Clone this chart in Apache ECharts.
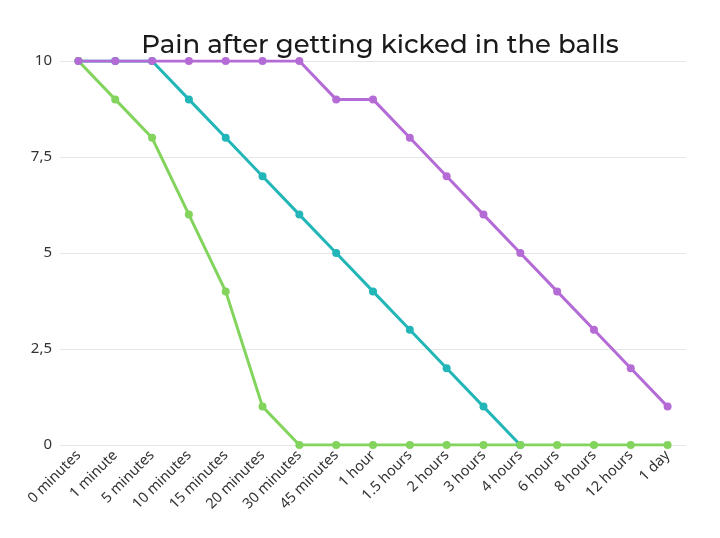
<!DOCTYPE html>
<html>
<head>
<meta charset="utf-8">
<script src="https://cdn.jsdelivr.net/npm/echarts@6/dist/echarts.min.js"></script>
<style>html,body{margin:0;padding:0;background:#fff}#c{width:720px;height:538px}</style>
</head>
<body>
<div id="c"></div>
<script>
const titleText = 'Pain after getting kicked in the balls';
const categories = ['0 minutes','1 minute','5 minutes','10 minutes','15 minutes','20 minutes','30 minutes','45 minutes','1 hour','1.5 hours','2 hours','3 hours','4 hours','6 hours','8 hours','12 hours','1 day'];
const tealValues = [10,10,10,9,8,7,6,5,4,3,2,1,0,null,null,null,null];
const greenValues = [10,9,8,6,4,1,0,0,0,0,0,0,0,0,0,0,0];
const purpleValues = [10,10,10,10,10,10,10,9,9,8,7,6,5,4,3,2,1];
const yTicks = [0,2.5,5,7.5,10];

const chart = echarts.init(document.getElementById('c'));
function mk(name, data, color){
  return {name, type:'line', data, symbol:'circle', symbolSize:8, connectNulls:false,
    lineStyle:{color, width:3}, itemStyle:{color}, animation:false};
}
chart.setOption({
  animation:false,
  title:{text:titleText, left:375, textAlign:'center', top:27,
    textStyle:{fontFamily:'Montserrat, "Noto Sans", sans-serif', fontSize:26, fontWeight:500, color:'#1a1a1a'}},
  grid:{left:60, right:34, top:61, bottom:93},
  xAxis:{type:'category', data:categories, boundaryGap:true,
    axisLine:{show:false}, axisTick:{show:false},
    axisLabel:{rotate:45, interval:0, fontSize:14.5, color:'#333', fontFamily:'"Noto Sans", sans-serif', margin:8}},
  yAxis:{type:'value', min:0, max:10, interval:2.5,
    axisLabel:{fontSize:15, color:'#333', margin:8, fontFamily:'"Noto Sans", sans-serif',
      formatter:v=>yTicks.includes(v)?String(v).replace('.',','):''},
    splitLine:{lineStyle:{color:'#e6e6e6', width:1}}},
  series:[mk('teal', tealValues, '#22b6b8'), mk('green', greenValues, '#82d45c'), mk('purple', purpleValues, '#b56bd6')]
});
</script>
</body>
</html>
